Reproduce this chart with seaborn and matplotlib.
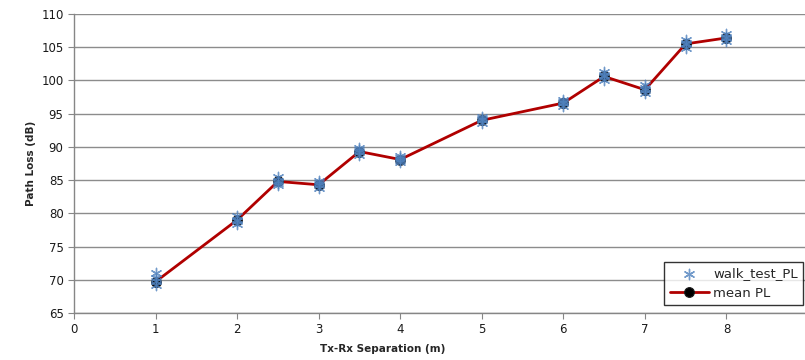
import matplotlib
matplotlib.use("Agg")
import matplotlib.pyplot as plt
import seaborn as sns
import pandas as pd

# mean path loss per Tx-Rx separation
dist = [1, 2, 2.5, 3, 3.5, 4, 5, 6, 6.5, 7, 7.5, 8]
mean_pl = [69.7, 79.0, 84.8, 84.3, 89.3, 88.1, 94.0, 96.6, 100.6, 98.6, 105.5, 106.4]

# walk test samples (4 per position)
walk_dist = [1, 1, 1, 1, 2, 2, 2, 2, 2.5, 2.5, 2.5, 2.5, 3, 3, 3, 3,
             3.5, 3.5, 3.5, 3.5, 4, 4, 4, 4, 5, 5, 5, 5, 6, 6, 6, 6,
             6.5, 6.5, 6.5, 6.5, 7, 7, 7, 7, 7.5, 7.5, 7.5, 7.5, 8, 8, 8, 8]
walk_pl = [71.0, 69.2, 69.8, 70.2, 79.6, 78.4, 79.0, 78.8,
           85.4, 84.3, 84.9, 84.6, 84.9, 83.8, 84.3, 84.5,
           89.9, 88.8, 89.3, 89.5, 88.6, 87.7, 88.1, 88.3,
           94.5, 93.6, 94.0, 94.2, 97.0, 96.2, 96.6, 96.8,
           101.3, 100.0, 100.6, 100.8, 99.3, 98.1, 98.6, 98.8,
           106.1, 104.9, 105.5, 105.7, 107.0, 105.9, 106.4, 106.6]

df_mean = pd.DataFrame({"dist": dist, "pl": mean_pl})
df_walk = pd.DataFrame({"dist": walk_dist, "pl": walk_pl})

sns.set_style("white")
plt.rcParams["font.family"] = ["DejaVu Sans"]

fig = plt.figure(figsize=(8.05, 3.6), dpi=100)
ax = fig.add_axes([74 / 805, 47 / 360, 734 / 805, 299 / 360])

sns.lineplot(data=df_mean, x="dist", y="pl", ax=ax, color="#b00000", linewidth=2,
             marker="o", markersize=7, markerfacecolor="#2f5f8f",
             markeredgecolor="#1a1a1a", markeredgewidth=0.8,
             label="mean PL", zorder=3)
sns.scatterplot(data=df_walk, x="dist", y="pl", ax=ax, marker=(6, 2, 0), s=55,
                color="#4f81bd", edgecolor="#4f81bd", linewidth=1.0, alpha=0.8,
                label="walk_test_PL", zorder=4)

ax.set_xlim(0, 9)
ax.set_ylim(65, 110)
ax.set_xticks(range(0, 10))
ax.set_yticks(range(65, 111, 5))
ax.yaxis.grid(True, color="#8c8c8c", linewidth=1)
ax.set_axisbelow(True)
for s in ["top", "right"]:
    ax.spines[s].set_visible(False)
for s in ["left", "bottom"]:
    ax.spines[s].set_color("#868686")
    ax.spines[s].set_linewidth(1)
ax.tick_params(axis="both", direction="out", length=4, color="#868686",
               labelsize=8.5, labelcolor="#1a1a1a", bottom=True, left=True)

ax.set_xlabel("Tx-Rx Separation (m)", fontsize=7.5, fontweight="bold")
ax.set_ylabel("Path Loss (dB)", fontsize=7.5, fontweight="bold")
ax.xaxis.set_label_coords(0.42, -0.105)

handles, labels = ax.get_legend_handles_labels()
order = [labels.index("walk_test_PL"), labels.index("mean PL")]
ax.get_legend().remove()
handles[labels.index("mean PL")].set_markerfacecolor("black")
leg = fig.legend([handles[i] for i in order], [labels[i] for i in order],
                 loc="lower right", bbox_to_anchor=(803 / 805, 55 / 360),
                 fontsize=9.5, frameon=True, fancybox=False, edgecolor="black",
                 handlelength=3.0, handletextpad=0.3, borderpad=0.4,
                 labelspacing=0.5, borderaxespad=0)
leg.get_frame().set_linewidth(1)

fig.savefig("out.png", dpi=100)
